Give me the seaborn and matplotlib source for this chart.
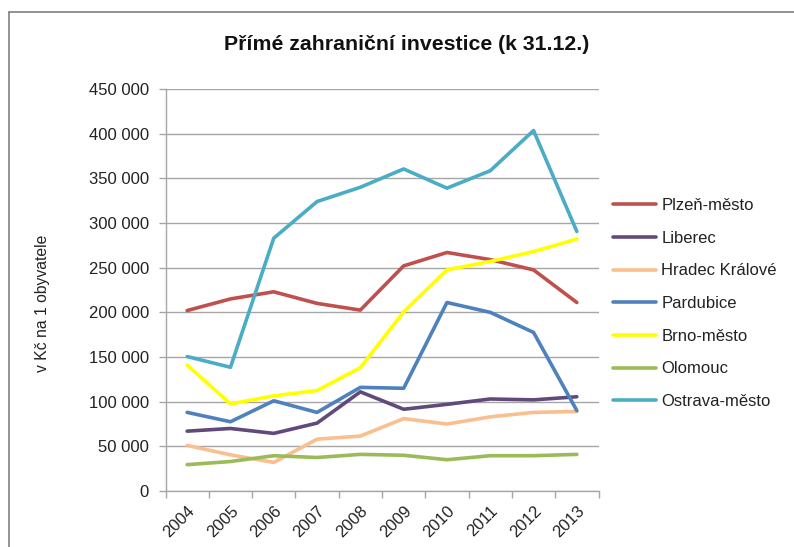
import matplotlib
matplotlib.use("Agg")
import matplotlib.pyplot as plt
from matplotlib.lines import Line2D
from matplotlib.ticker import FuncFormatter, FixedLocator
import seaborn as sns
import pandas as pd

years = [2004, 2005, 2006, 2007, 2008, 2009, 2010, 2011, 2012, 2013]
plzen = [202000, 215000, 223000, 210000, 202500, 252000, 267000, 259000, 247500, 211000]
liberec = [67000, 70000, 64500, 76000, 111000, 91500, 97000, 103000, 102000, 105500]
hradec = [51000, 40500, 32000, 58000, 61500, 81000, 75000, 83000, 88000, 89000]
pardubice = [88000, 77500, 101000, 88000, 116000, 115000, 211000, 200000, 177500, 90000]
brno = [141000, 97500, 106500, 112500, 138000, 200500, 247500, 257000, 268000, 282000]
olomouc = [29500, 33000, 39500, 37500, 41000, 40000, 35000, 39500, 39500, 41000]
ostrava = [150500, 138500, 283000, 324000, 340000, 360500, 339000, 358500, 403500, 290500]

series_names = ["Plzeň-město", "Liberec", "Hradec Králové", "Pardubice",
                "Brno-město", "Olomouc", "Ostrava-město"]
series_values = [plzen, liberec, hradec, pardubice, brno, olomouc, ostrava]
colors = ["#C0504D", "#604A7B", "#FABF8F", "#4F81BD", "#FFFF00", "#9BBB59", "#4BACC6"]
yticks = [0, 50000, 100000, 150000, 200000, 250000, 300000, 350000, 400000, 450000]

rows = []
for name, vals in zip(series_names, series_values):
    for y, v in zip(years, vals):
        rows.append({"year": y, "value": v, "series": name})
df = pd.DataFrame(rows)

sns.set_theme(style="white")
plt.rcParams['font.family'] = ['Liberation Sans', 'DejaVu Sans']

fig = plt.figure(figsize=(7.94, 5.47), dpi=100)
ax = fig.add_axes([165.5 / 794, 1 - 491 / 547, 433 / 794, 402 / 547])

sns.lineplot(data=df, x="year", y="value", hue="series", hue_order=series_names,
             palette=colors, linewidth=2.6, ax=ax, legend=True, sort=False)

ax.set_xlim(years[0] - 0.5, years[-1] + 0.5)
ax.set_ylim(0, 450000)
ax.set_yticks(yticks)
ax.yaxis.set_major_formatter(FuncFormatter(lambda v, p: f"{int(v):,}".replace(",", " ")))
ax.grid(axis="y", color="#a6a6a6", linewidth=1.0)
ax.grid(axis="x", visible=False)
ax.set_axisbelow(True)

ax.set_xticks(years)
ax.set_xticklabels([str(y) for y in years], rotation=45, ha="right",
                   rotation_mode="anchor")
ax.xaxis.set_minor_locator(FixedLocator([y - 0.5 for y in years] + [years[-1] + 0.5]))
ax.tick_params(axis="x", which="major", length=0, pad=9, labelsize=12, colors="#222222")
ax.tick_params(axis="x", which="minor", length=5, width=1, color="#a6a6a6", bottom=True)
ax.tick_params(axis="y", which="major", length=5, width=1, color="#a6a6a6",
               labelsize=12, labelcolor="#222222", pad=7, left=True)

for s in ["top", "right"]:
    ax.spines[s].set_visible(False)
for s in ["left", "bottom"]:
    ax.spines[s].set_color("#a6a6a6")
    ax.spines[s].set_linewidth(1.0)

ax.set_xlabel("")
ax.set_ylabel("")
fig.text(43 / 794, 1 - 303 / 547, "v Kč na 1 obyvatele", rotation=90,
         ha="center", va="center", fontsize=11.3, color="#222222")

fig.text(407 / 794, 1 - 45 / 547, "Přímé zahraniční investice (k 31.12.)",
         ha="center", va="center", fontsize=15.3, fontweight="bold", color="#111111")

handles, labels = ax.get_legend_handles_labels()
ax.get_legend().remove()
leg = fig.legend(handles, labels, loc="center left",
                 bbox_to_anchor=(613 / 794, 1 - 303.5 / 547),
                 frameon=False, fontsize=12, handlelength=2.6, handletextpad=0.3,
                 labelspacing=1.06, borderpad=0, borderaxespad=0)
for t in leg.get_texts():
    t.set_color("#222222")

fig.add_artist(Line2D([9 / 794, 1.0], [1 - 12 / 547, 1 - 12 / 547],
                      transform=fig.transFigure, color="#808080", linewidth=1.2))
fig.add_artist(Line2D([9 / 794, 9 / 794], [1 - 12 / 547, 0.0],
                      transform=fig.transFigure, color="#808080", linewidth=1.2))

fig.savefig("out.png", dpi=100)
